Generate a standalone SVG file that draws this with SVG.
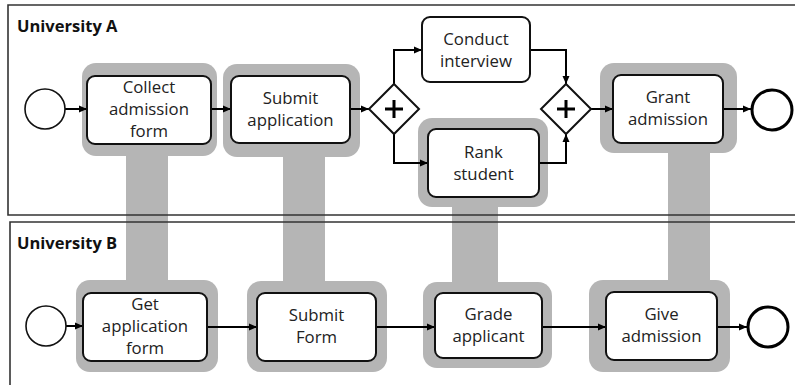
<svg xmlns="http://www.w3.org/2000/svg" width="795" height="385" viewBox="0 0 795 385">
<defs>
<marker id="arr" markerUnits="userSpaceOnUse" markerWidth="8" markerHeight="8" viewBox="0 0 8 8" refX="8" refY="4" orient="auto">
<path d="M0,0.5 L8,4 L0,7.5 Z" fill="#000"/>
</marker>
<style>
.halo{fill:#b5b5b5;}
.stem{fill:#b5b5b5;}
.lane{stroke:#333;stroke-width:1.6;fill:none;}
.box{fill:#fff;stroke:#111;stroke-width:2;}
.start{fill:#fff;stroke:#111;stroke-width:1.6;}
.end{fill:#fff;stroke:#000;stroke-width:3;}
.gw{fill:#fff;stroke:#111;stroke-width:2;}
.plus{stroke:#000;stroke-width:3;fill:none;}
.t{font-family:"Open Sans","Liberation Sans",sans-serif;font-size:16.8px;fill:#222;text-anchor:middle;}
.lt{font-family:"Open Sans","Liberation Sans",sans-serif;font-size:16.5px;font-weight:bold;fill:#111;}
.c{stroke:#000;stroke-width:2;fill:none;marker-end:url(#arr);}
</style>
</defs>
<rect width="795" height="385" fill="#fff"/>
<g id="halos">
<rect class="stem" x="126" y="150" width="42" height="135"/>
<rect class="stem" x="283" y="150" width="42" height="135"/>
<rect class="stem" x="452" y="200" width="46" height="90"/>
<rect class="stem" x="668" y="150" width="42" height="135"/>
<rect class="halo" x="82" y="63" width="135" height="93" rx="14"/>
<rect class="halo" x="223" y="64" width="137" height="93" rx="14"/>
<rect class="halo" x="418" y="118" width="130" height="89" rx="14"/>
<rect class="halo" x="600" y="63" width="137" height="90" rx="14"/>
<rect class="halo" x="76" y="280" width="142" height="92" rx="14"/>
<rect class="halo" x="247" y="281" width="140" height="91" rx="14"/>
<rect class="halo" x="423" y="282" width="129" height="86" rx="14"/>
<rect class="halo" x="589" y="280" width="141" height="92" rx="14"/>
</g>
<g id="laneA">
<path class="lane" d="M796,5 H8 V215 H796"/>
<text class="lt" x="17" y="32">University A</text>
</g>
<g id="laneB">
<path class="lane" d="M796,222 H10 V385"/>
<text class="lt" x="17" y="249">University B</text>
</g>
<g id="connectors">
<path class="c" d="M65,109 H87"/>
<path class="c" d="M211,109 H231"/>
<path class="c" d="M350,109 H369"/>
<path class="c" d="M394,84 V50 H422"/>
<path class="c" d="M394,134 V163 H428"/>
<path class="c" d="M530,50 H566 V84"/>
<path class="c" d="M539,163 H566 V134"/>
<path class="c" d="M591,109 H613"/>
<path class="c" d="M723,109 H751"/>
<path class="c" d="M66,326 H83"/>
<path class="c" d="M207,327 H257"/>
<path class="c" d="M376,327 H435"/>
<path class="c" d="M542,327 H606"/>
<path class="c" d="M717,327 H747"/>
</g>
<g id="startA"><circle class="start" cx="45" cy="109" r="20"/></g>
<g id="collect">
<rect class="box" x="87" y="76" width="124" height="68" rx="8"/>
<text class="t" x="149" y="93">Collect</text>
<text class="t" x="149" y="115">admission</text>
<text class="t" x="149" y="137">form</text>
</g>
<g id="submitApp">
<rect class="box" x="231" y="76" width="119" height="67" rx="8"/>
<text class="t" x="290.5" y="104">Submit</text>
<text class="t" x="290.5" y="126">application</text>
</g>
<g id="gw1">
<path class="gw" d="M394,84 L419,109 L394,134 L369,109 Z"/>
<path class="plus" d="M385,109 H403 M394,100 V118"/>
</g>
<g id="conduct">
<rect class="box" x="422" y="17" width="108" height="65" rx="8"/>
<text class="t" x="476" y="45">Conduct</text>
<text class="t" x="476" y="67">interview</text>
</g>
<g id="rank">
<rect class="box" x="428" y="129" width="111" height="68" rx="8"/>
<text class="t" x="483.5" y="158">Rank</text>
<text class="t" x="483.5" y="180">student</text>
</g>
<g id="gw2">
<path class="gw" d="M566,84 L591,109 L566,134 L541,109 Z"/>
<path class="plus" d="M557,109 H575 M566,100 V118"/>
</g>
<g id="grant">
<rect class="box" x="613" y="75" width="110" height="68" rx="8"/>
<text class="t" x="668" y="103">Grant</text>
<text class="t" x="668" y="125">admission</text>
</g>
<g id="endA"><circle class="end" cx="772" cy="110" r="20"/></g>
<g id="startB"><circle class="start" cx="46" cy="326" r="20"/></g>
<g id="getForm">
<rect class="box" x="83" y="293" width="124" height="68" rx="8"/>
<text class="t" x="145" y="310">Get</text>
<text class="t" x="145" y="332">application</text>
<text class="t" x="145" y="354">form</text>
</g>
<g id="submitForm">
<rect class="box" x="257" y="293" width="119" height="68" rx="8"/>
<text class="t" x="316.5" y="321">Submit</text>
<text class="t" x="316.5" y="343">Form</text>
</g>
<g id="grade">
<rect class="box" x="435" y="293" width="107" height="65" rx="8"/>
<text class="t" x="488.5" y="320">Grade</text>
<text class="t" x="488.5" y="342">applicant</text>
</g>
<g id="give">
<rect class="box" x="606" y="292" width="111" height="68" rx="8"/>
<text class="t" x="661.5" y="320">Give</text>
<text class="t" x="661.5" y="342">admission</text>
</g>
<g id="endB"><circle class="end" cx="768" cy="327" r="20"/></g>
</svg>
